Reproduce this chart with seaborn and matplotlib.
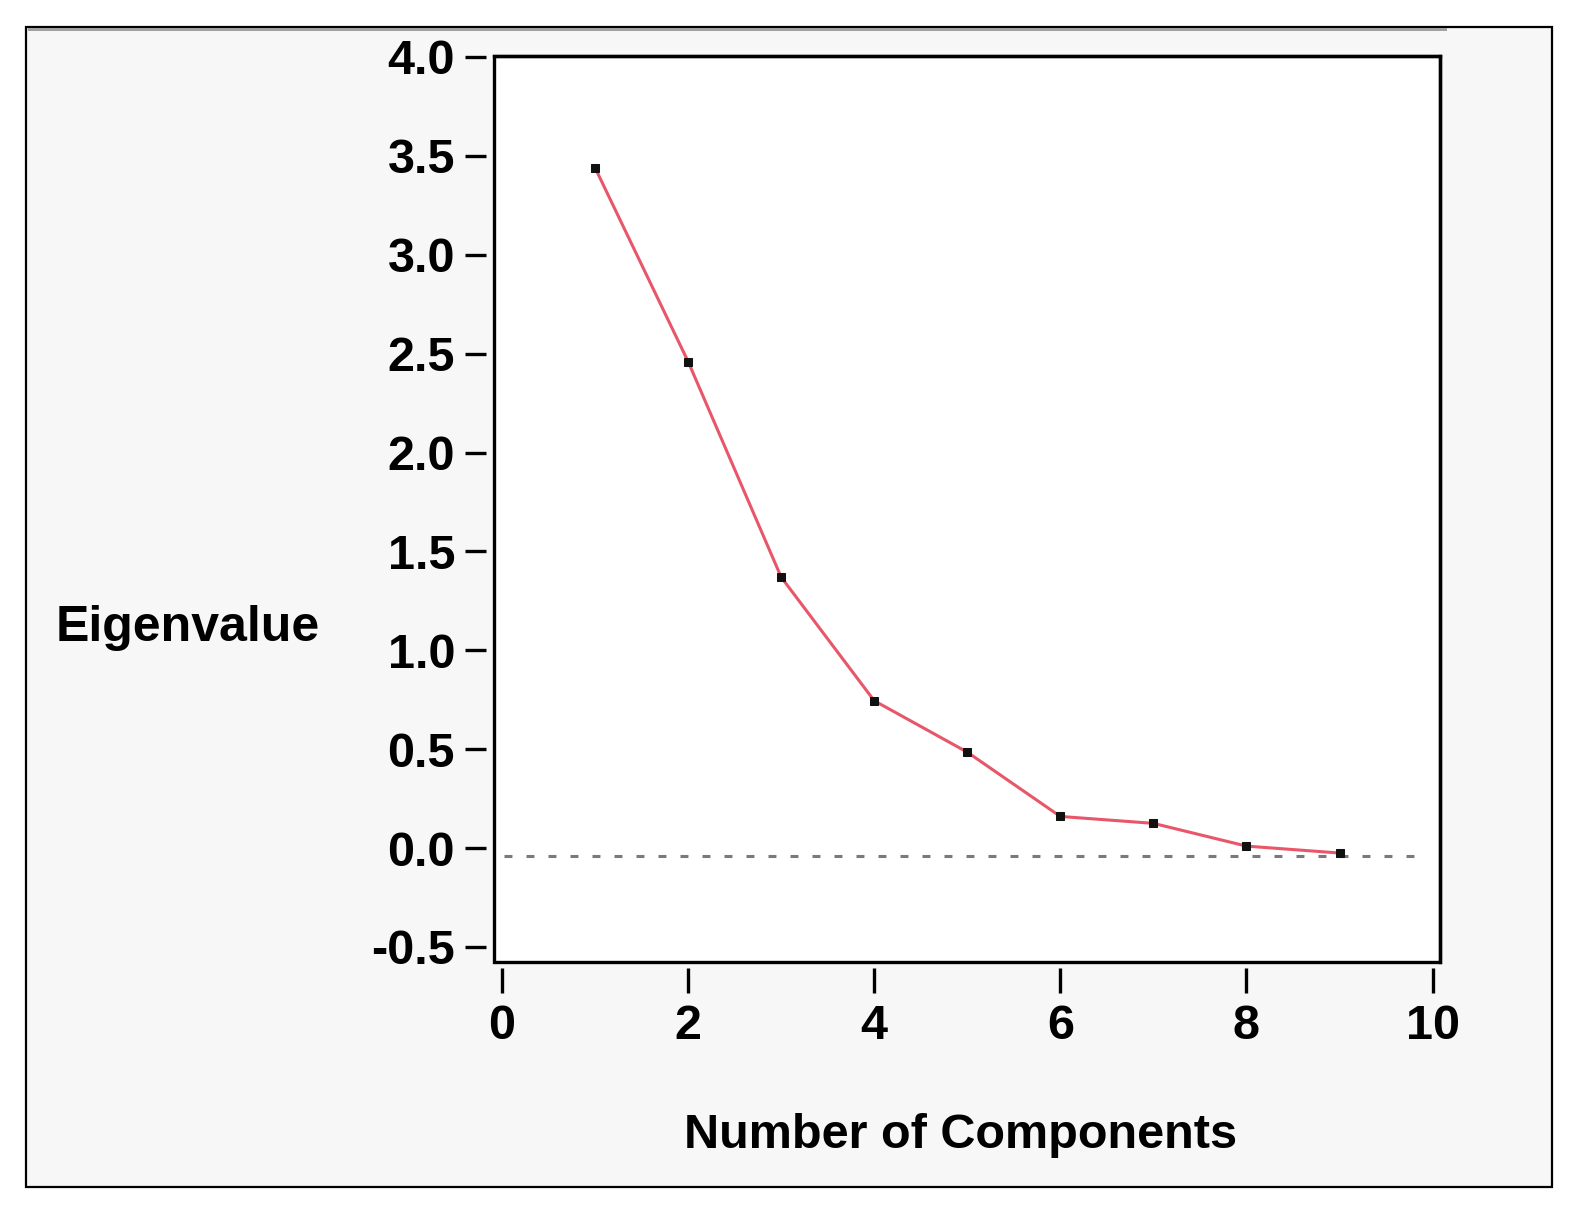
import numpy as np
import pandas as pd
import seaborn as sns
import matplotlib.pyplot as plt
from matplotlib.patches import Rectangle

# scree plot values
components = [1, 2, 3, 4, 5, 6, 7, 8, 9]
eigenvalues = [3.44, 2.46, 1.37, 0.745, 0.485, 0.16, 0.125, 0.01, -0.025]
baseline_value = -0.04

x_ticks = [0, 2, 4, 6, 8, 10]
y_ticks = [-0.5, 0.0, 0.5, 1.0, 1.5, 2.0, 2.5, 3.0, 3.5, 4.0]

sns.set_theme(style="white")
plt.rcParams['font.family'] = ['Liberation Sans', 'DejaVu Sans']
plt.rcParams['font.weight'] = 'bold'

W, H = 1579, 1215
fig = plt.figure(figsize=(W / 100, H / 100), dpi=100)
fig.patch.set_facecolor('white')

# outer panel, kept behind the axes
fig.patches.append(Rectangle((26 / W, 1 - 1187 / H), (1552 - 26) / W, (1187 - 27) / H,
                             transform=fig.transFigure, facecolor='#f7f7f7',
                             edgecolor='black', linewidth=1.6, zorder=-5))
fig.patches.append(Rectangle((28 / W, 1 - 31 / H), (1447 - 28) / W, 3 / H,
                             transform=fig.transFigure, facecolor='#a0a0a0',
                             edgecolor='none', zorder=-4))

ax = fig.add_axes([494 / W, 1 - 962 / H, (1440 - 494) / W, (962 - 56) / H])
ax.set_facecolor('white')

df = pd.DataFrame({"components": components, "eigenvalue": eigenvalues})

ax.axhline(baseline_value, xmin=0.011, xmax=0.981, color='#7a7a7a',
           linewidth=2.2, dashes=(2.6, 4.6), dash_capstyle='butt', zorder=1)
sns.lineplot(data=df, x="components", y="eigenvalue", ax=ax, color='#e8566a',
             linewidth=2.2, marker='s', markersize=5.5, markerfacecolor='#111111',
             markeredgecolor='#111111', zorder=3)

ax.set_xlim(-0.086, 10.08)
ax.set_ylim(-0.576, 4.005)
ax.set_xticks(x_ticks)
ax.set_yticks(y_ticks)
ax.set_xticklabels([str(v) for v in x_ticks])
ax.set_yticklabels([f"{v:.1f}" for v in y_ticks])
ax.set_xlabel("")
ax.set_ylabel("")

for side in ['top', 'right', 'left', 'bottom']:
    ax.spines[side].set_visible(True)
    ax.spines[side].set_color('black')
    ax.spines[side].set_linewidth(2.4)
# ticks sit apart from the frame
ax.spines['left'].set_position(('outward', 6))
ax.spines['bottom'].set_position(('outward', 4.5))
ax.spines['left'].set_color('none')
ax.spines['bottom'].set_color('none')
ax.add_patch(Rectangle((0, 0), 1, 1, transform=ax.transAxes, fill=False,
                       edgecolor='black', linewidth=2.4, clip_on=False, zorder=5))

ax.tick_params(axis='y', direction='out', length=15, width=2.4, pad=7,
               labelsize=35, color='black', labelcolor='black', left=True)
ax.tick_params(axis='x', direction='out', length=18, width=2.4, pad=8,
               labelsize=35, color='black', labelcolor='black', bottom=True)

fig.text(188 / W, 1 - 641 / H, "Eigenvalue", ha='center', va='baseline',
         fontsize=36, fontweight='bold', color='black')
fig.text(961 / W, 1 - 1148 / H, "Number of Components", ha='center', va='baseline',
         fontsize=35, fontweight='bold', color='black')

fig.savefig("out.png", dpi=100)
